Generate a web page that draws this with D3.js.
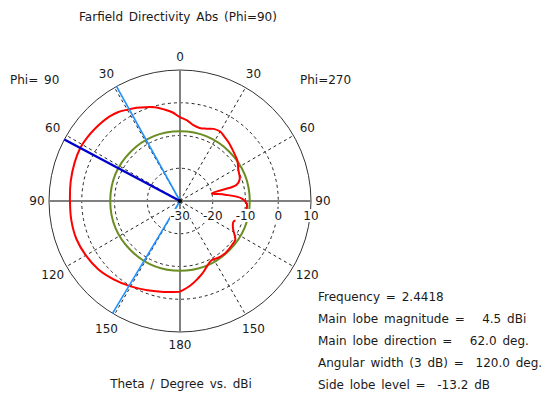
<!DOCTYPE html>
<html>
<head>
<meta charset="utf-8">
<script src="https://cdn.jsdelivr.net/npm/d3@7"></script>
<style>
  body { margin: 0; background: #fff; }
  svg text { font-family: "DejaVu Sans", Verdana, sans-serif; font-size: 12px; fill: #1a1a1a; white-space: pre; word-spacing: 2px; }
</style>
</head>
<body>
<div id="chart"></div>
<script>
// directivity cut, Phi=90 half (left side) and Phi=270 half (right side), dBi
var thetaPhi90 = [0, 5, 10, 15, 20, 25, 30, 35, 40, 50, 56, 62, 70, 80, 90, 100, 110, 120, 130, 140, 150, 160, 170, 180];
var dbPhi90 = [-4.4, -2.8, -1.6, -0.4, 0.5, 1.4, 2.2, 3.1, 3.6, 4.1, 4.35, 4.5, 4.25, 3.9, 3.6, 3.7, 3.7, 3.2, 2.5, 1.3, 0.1, -1.0, -1.8, -2.3];

var thetaPhi270 = [0, 5, 10, 15, 20, 25, 30, 35, 40, 45, 50, 55, 62, 70, 74, 75, 76.4, 82, 87.5, 92, 98, 103, 108, 111, 115, 118.5, 125, 130, 139, 146, 152, 158, 163, 167, 173, 180];
var dbPhi270 = [-4.4, -5.3, -6.5, -6.9, -6.5, -5.7, -5.5, -6.2, -6.8, -7.5, -8.1, -8.6, -9.8, -10.6, -12.0, -13.5, -20.0, -16.1, -11.2, -9.6, -9.5, -9.6, -11.3, -12.5, -12.2, -11.5, -9.4, -9.2, -8.9, -9.1, -9.5, -8.3, -6.8, -5.7, -4.0, -2.3];

var radialTicks = [-30, -20, -10, 0, 10];
var angleTicks = [0, 30, 60, 90, 120, 150, 180];

var mainLobeDir = 62;
var beamEdges = [29, 149];
var sideLobeLevel = -8.7;   // 4.5 dBi - 13.2 dB

var infoLines = [
  "Frequency = 2.4418",
  "Main lobe magnitude =   4.5 dBi",
  "Main lobe direction =   62.0 deg.",
  "Angular width (3 dB) =  120.0 deg.",
  "Side lobe level =  -13.2 dB"
];

var W = 545, H = 393;
var cx = 180, cy = 201, R = 131;

var svg = d3.select("#chart").append("svg")
    .attr("width", W)
    .attr("height", H);

var r = d3.scaleLinear().domain([-30, 10]).range([0, R]);
var rad = function(deg) { return deg * Math.PI / 180; };

var g = svg.append("g").attr("transform", "translate(" + cx + "," + cy + ")");

// dashed rings
g.selectAll(".ring")
  .data(radialTicks.slice(1, -1))
  .enter().append("circle")
    .attr("class", "ring")
    .attr("r", function(d) { return r(d); })
    .attr("fill", "none")
    .attr("stroke", "#222")
    .attr("stroke-width", 1)
    .attr("stroke-dasharray", "3,3");

// dashed spokes both sides
var spokeAngles = [30, 60, 120, 150, -30, -60, -120, -150];
g.selectAll(".spoke")
  .data(spokeAngles)
  .enter().append("line")
    .attr("class", "spoke")
    .attr("x1", 0).attr("y1", 0)
    .attr("x2", function(d) { return R * Math.sin(rad(d)); })
    .attr("y2", function(d) { return -R * Math.cos(rad(d)); })
    .attr("stroke", "#222")
    .attr("stroke-width", 1)
    .attr("stroke-dasharray", "3,3");

// outer ring
g.append("circle")
  .attr("r", R)
  .attr("fill", "none")
  .attr("stroke", "#333")
  .attr("stroke-width", 1);

// main axes
g.append("line").attr("x1", 0).attr("y1", -R).attr("x2", 0).attr("y2", R)
  .attr("stroke", "#808080").attr("stroke-width", 2);
g.append("line").attr("x1", -R).attr("y1", 0).attr("x2", R).attr("y2", 0)
  .attr("stroke", "#808080").attr("stroke-width", 2);

// side lobe level circle
g.append("circle")
  .attr("r", r(sideLobeLevel))
  .attr("fill", "none")
  .attr("stroke", "#6b8e23")
  .attr("stroke-width", 2);

// pattern: left half uses negative angle (counterclockwise)
var pts = [];
for (var i = thetaPhi90.length - 1; i >= 0; i--) {
  pts.push([-rad(thetaPhi90[i]), r(dbPhi90[i])]);
}
for (var j = 1; j < thetaPhi270.length; j++) {
  pts.push([rad(thetaPhi270[j]), r(dbPhi270[j])]);
}
var line = d3.lineRadial()
  .angle(function(d) { return d[0]; })
  .radius(function(d) { return d[1]; })
  .curve(d3.curveCatmullRom.alpha(0.5));

g.append("path")
  .attr("d", line(pts))
  .attr("fill", "none")
  .attr("stroke", "#ff0000")
  .attr("stroke-width", 2);

// 3 dB beam edges
g.selectAll(".edge")
  .data(beamEdges)
  .enter().append("line")
    .attr("x1", 0).attr("y1", 0)
    .attr("x2", function(d) { return -R * Math.sin(rad(d)); })
    .attr("y2", function(d) { return -R * Math.cos(rad(d)); })
    .attr("stroke", "#1e90ff")
    .attr("stroke-width", 1.6);

// main lobe direction
g.append("line")
  .attr("x1", 0).attr("y1", 0)
  .attr("x2", -R * Math.sin(rad(mainLobeDir)))
  .attr("y2", -R * Math.cos(rad(mainLobeDir)))
  .attr("stroke", "#0000cd")
  .attr("stroke-width", 2.5);

g.append("circle").attr("r", 2).attr("fill", "#000");

// radial labels with white backing
var rl = g.selectAll(".rlab")
  .data(radialTicks)
  .enter().append("g")
    .attr("transform", function(d) { return "translate(" + r(d) + ",15)"; });
rl.append("rect")
  .attr("x", function(d) { return d === 10 || d === 0 ? -5 : -10; })
  .attr("y", -7)
  .attr("width", function(d) { return d === 10 || d === 0 ? 10 : 20; })
  .attr("height", 13)
  .attr("fill", "#fff");
rl.append("text")
  .attr("text-anchor", "middle")
  .attr("dy", "0.35em")
  .text(function(d) { return d; });

// angle labels both sides
var labR = function(d) { return d === 90 ? 143 : (d === 0 || d === 180 ? 144 : 147); };
var sides = [];
angleTicks.forEach(function(d) {
  sides.push({ t: d, s: -1 });
  if (d !== 0 && d !== 180) sides.push({ t: d, s: 1 });
});
g.selectAll(".alab")
  .data(sides)
  .enter().append("text")
    .attr("x", function(d) { return d.s * labR(d.t) * Math.sin(rad(d.t)); })
    .attr("y", function(d) { return -labR(d.t) * Math.cos(rad(d.t)); })
    .attr("dy", "0.35em")
    .attr("text-anchor", "middle")
    .text(function(d) { return d.t; });

// headings
svg.append("text").attr("x", 178).attr("y", 21).attr("text-anchor", "middle")
  .text("Farfield Directivity Abs (Phi=90)");
svg.append("text").attr("x", 10).attr("y", 84).text("Phi= 90");
svg.append("text").attr("x", 300).attr("y", 84).text("Phi=270");
svg.append("text").attr("x", 181).attr("y", 388).attr("text-anchor", "middle")
  .text("Theta / Degree vs. dBi");

svg.selectAll(".info")
  .data(infoLines)
  .enter().append("text")
    .attr("x", 318)
    .attr("y", function(d, i) { return 301 + i * 22; })
    .text(function(d) { return d; });
</script>
</body>
</html>
